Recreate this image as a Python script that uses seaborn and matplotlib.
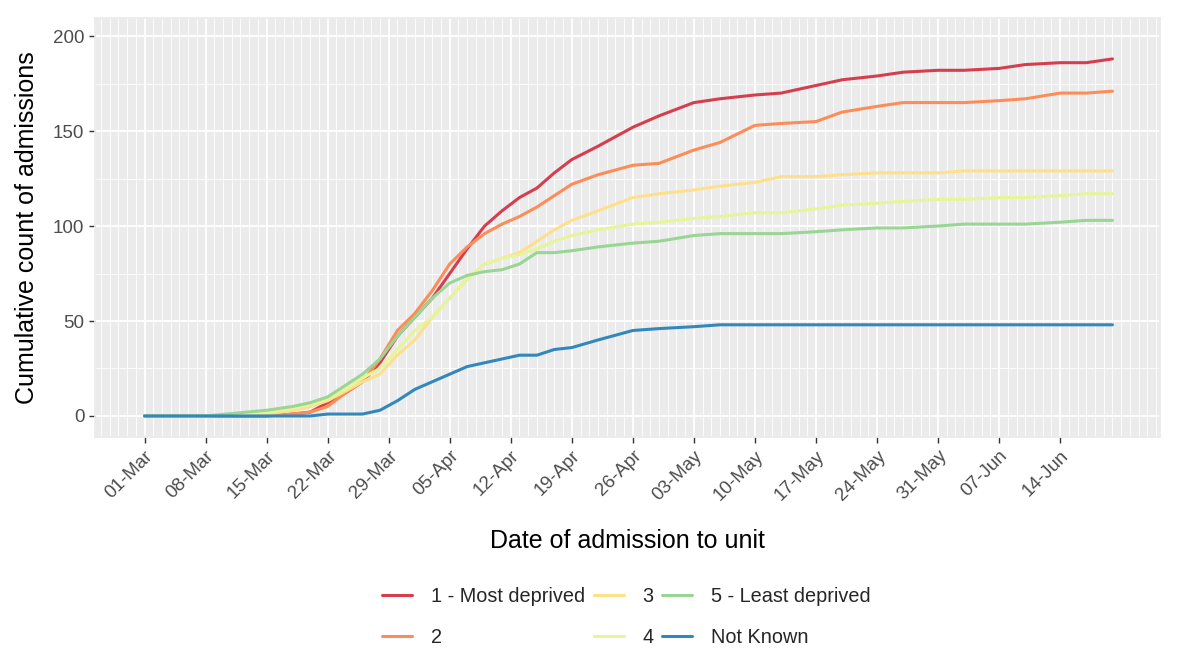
import numpy as np
import pandas as pd
import matplotlib
matplotlib.use("Agg")
import matplotlib.pyplot as plt
import matplotlib.dates as mdates
from matplotlib.ticker import MultipleLocator
import seaborn as sns

days = [0, 7, 14, 17, 19, 21, 23, 25, 27, 29, 31, 33, 35, 37, 39, 41, 43, 45, 47,
        49, 52, 56, 59, 63, 66, 70, 73, 77, 80, 84, 87, 91, 94, 98, 101, 105, 108, 111]

groups = ["1 - Most deprived", "2", "3", "4", "5 - Least deprived", "Not Known"]
colours = ["#D53E4F", "#FC8D59", "#FEE08B", "#E6F598", "#99D594", "#3288BD"]

most_deprived = [0, 0, 0, 1, 2, 7, 12, 18, 28, 42, 52, 62, 75, 88, 100, 108, 115, 120, 128,
                 135, 142, 152, 158, 165, 167, 169, 170, 174, 177, 179, 181, 182, 182, 183, 185, 186, 186, 188]
q2 = [0, 0, 0, 1, 2, 5, 12, 18, 30, 45, 54, 66, 80, 89, 96, 101, 105, 110, 116,
      122, 127, 132, 133, 140, 144, 153, 154, 155, 160, 163, 165, 165, 165, 166, 167, 170, 170, 171]
q3 = [0, 0, 1, 3, 5, 8, 13, 18, 22, 32, 40, 52, 62, 72, 80, 83, 86, 92, 98,
      103, 108, 115, 117, 119, 121, 123, 126, 126, 127, 128, 128, 128, 129, 129, 129, 129, 129, 129]
q4 = [0, 0, 2, 4, 6, 9, 14, 20, 25, 35, 45, 52, 62, 72, 80, 83, 85, 88, 92,
      95, 98, 101, 102, 104, 105, 107, 107, 109, 111, 112, 113, 114, 114, 115, 115, 116, 117, 117]
least_deprived = [0, 0, 3, 5, 7, 10, 16, 22, 30, 42, 52, 62, 70, 74, 76, 77, 80, 86, 86,
                  87, 89, 91, 92, 95, 96, 96, 96, 97, 98, 99, 99, 100, 101, 101, 101, 102, 103, 103]
not_known = [0, 0, 0, 0, 0, 1, 1, 1, 3, 8, 14, 18, 22, 26, 28, 30, 32, 32, 35,
             36, 40, 45, 46, 47, 48, 48, 48, 48, 48, 48, 48, 48, 48, 48, 48, 48, 48, 48]

tick_labels = ["01-Mar", "08-Mar", "15-Mar", "22-Mar", "29-Mar", "05-Apr", "12-Apr", "19-Apr",
               "26-Apr", "03-May", "10-May", "17-May", "24-May", "31-May", "07-Jun", "14-Jun"]

series = [most_deprived, q2, q3, q4, least_deprived, not_known]
start = pd.Timestamp("2020-03-01")
dates = start + pd.to_timedelta(days, unit="D")
tick_dates = pd.to_datetime([t + "-2020" for t in tick_labels], format="%d-%b-%Y")

df = pd.DataFrame({
    "date": np.tile(dates, len(groups)),
    "count": np.concatenate(series),
    "group": np.repeat(groups, len(days)),
})

sns.set_theme(style="darkgrid", rc={
    "axes.facecolor": "#EBEBEB",
    "grid.color": "white",
    "axes.edgecolor": "#EBEBEB",
})
plt.rcParams["font.family"] = ["Liberation Sans", "DejaVu Sans"]

fig = plt.figure(figsize=(12, 6.69), dpi=100)
ax = fig.add_axes([0.079, 0.347, 0.888, 0.626])

sns.lineplot(data=df, x="date", y="count", hue="group", palette=colours,
             hue_order=groups, linewidth=2.2, ax=ax, legend=False)

ax.set_xlim(start - pd.Timedelta(days=5.7), start + pd.Timedelta(days=116.5))
ax.set_ylim(-11, 209.5)

ax.set_xticks(tick_dates)
ax.set_xticklabels(tick_labels)
ax.xaxis.set_minor_locator(mdates.DayLocator())
ax.yaxis.set_major_locator(MultipleLocator(50))
ax.yaxis.set_minor_locator(MultipleLocator(25))

ax.grid(which="major", color="white", linewidth=1.3)
ax.grid(which="minor", color="white", linewidth=0.6)
ax.tick_params(axis="both", which="major", length=4, width=1, color="#333333",
               labelcolor="#4D4D4D", labelsize=13.5, direction="out", bottom=True, left=True)
ax.tick_params(axis="both", which="minor", length=0)
plt.setp(ax.get_xticklabels(), rotation=45, ha="right", rotation_mode="anchor")

ax.set_xlabel("Date of admission to unit", fontsize=18, labelpad=18, color="black")
ax.set_ylabel("Cumulative count of admissions", fontsize=18, labelpad=10, color="black")

handles = [plt.Line2D([], [], color=c, linewidth=2.2) for c in colours]
fig.legend(handles, groups, ncol=3, loc="center", bbox_to_anchor=(0.522, 0.078),
           frameon=False, fontsize=14.3, handlelength=1.5, columnspacing=0.45,
           handletextpad=0.95, labelspacing=1.1)

fig.savefig("out.png", dpi=100, facecolor="white")
